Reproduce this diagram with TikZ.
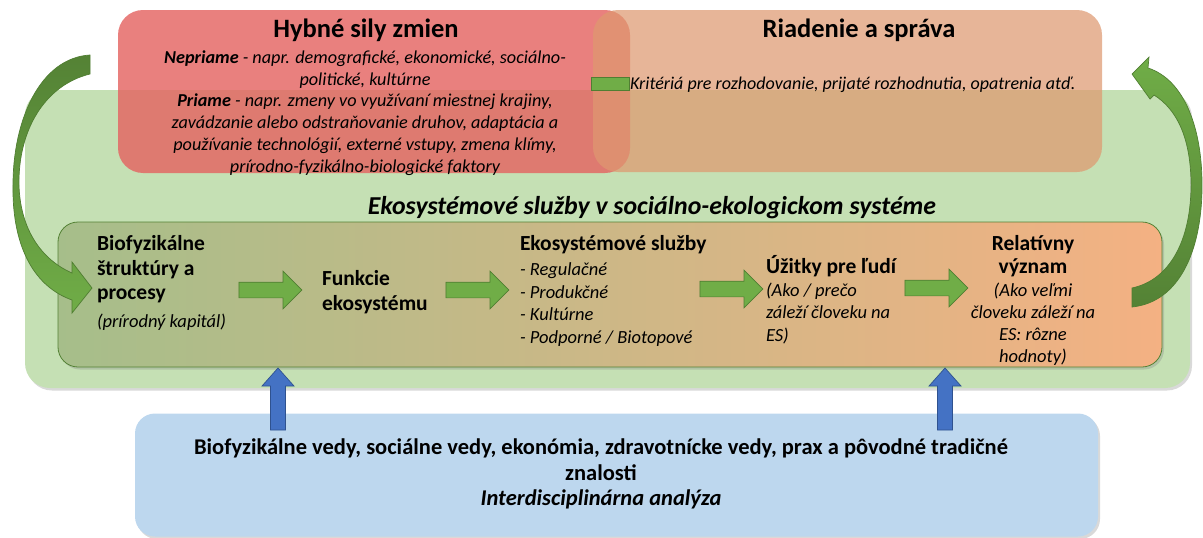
\documentclass[tikz,border=0pt]{standalone}
\usepackage{fontspec}
\setmainfont{Carlito}
\usetikzlibrary{shapes.arrows,shadows}
\definecolor{bggreen}{RGB}{197,224,180}
\definecolor{redbox}{RGB}{228,100,98}
\definecolor{orbox}{RGB}{222,152,112}
\definecolor{bluebox}{RGB}{189,215,238}
\definecolor{arrgreen}{RGB}{112,173,71}
\definecolor{arrgreenD}{RGB}{80,126,50}
\definecolor{darkgreen}{RGB}{84,130,53}
\definecolor{arrblue}{RGB}{68,114,196}
\definecolor{arrblueD}{RGB}{47,82,143}
\definecolor{gradL}{RGB}{166,190,138}
\definecolor{gradR}{RGB}{244,177,131}
\tikzset{
  panel/.style={draw=none, inner sep=0pt, outer sep=0pt},
  shad/.style={drop shadow={opacity=0.3, shadow xshift=2pt, shadow yshift=-2.5pt}},
  garrow/.style={single arrow, draw=arrgreenD, fill=arrgreen, line width=0.7pt,
    inner xsep=0pt, inner ysep=7.5pt, minimum height=63pt,
    single arrow head extend=11pt, single arrow tip angle=90, outer sep=0pt},
  barrow/.style={draw=arrblueD, fill=arrblue, line width=0.7pt},
  txt/.style={inner sep=0pt, outer sep=0pt, text=black},
  bt/.style={txt, font=\fontsize{21.5}{24.5}\selectfont\bfseries},
  it/.style={txt, font=\fontsize{18.5}{22.5}\selectfont\itshape},
}
\begin{document}
\begin{tikzpicture}[x=1pt,y=-1pt]
\useasboundingbox (0,0) rectangle (1203,538);
% big system box
\node[panel, fill=bggreen, rounded corners=25pt, minimum width=1165pt, minimum height=298pt, shad] (sys) at (607.5,239) {};
% drivers and governance
\node[panel, fill=redbox, fill opacity=0.82, rounded corners=25pt, minimum width=512pt, minimum height=163pt] (drv) at (374,91.5) {};
\node[panel, fill=orbox, fill opacity=0.72, rounded corners=25pt, minimum width=509pt, minimum height=162pt] (gov) at (847.5,91) {};
\node[draw=arrgreenD, fill=arrgreen, line width=0.6pt, inner sep=0pt, minimum width=38pt, minimum height=13pt] (link) at (610,83.5) {};
% inner gradient box
\node[panel, draw=darkgreen, line width=0.8pt, left color=gradL, right color=gradR, rounded corners=20pt, minimum width=1104pt, minimum height=145pt, shad] (es) at (610,294.5) {};
% blue box
\node[panel, fill=bluebox, rounded corners=20pt, minimum width=963pt, minimum height=123pt, shad] (sci) at (616.5,475) {};

% texts top
\node[txt, anchor=north, font=\fontsize{26.5}{30}\selectfont\bfseries] (drvt) at (366,19) {Hybné sily zmien};
\node[txt, anchor=north, align=center, font=\fontsize{18.2}{21.8}\selectfont\itshape] (drvb) at (365,50.5)
 {\textbf{Nepriame} - napr. demografické, ekonomické, sociálno-\\politické, kultúrne\\\textbf{Priame} - napr. zmeny vo využívaní miestnej krajiny,\\zavádzanie alebo odstraňovanie druhov, adaptácia a\\používanie technológií, externé vstupy, zmena klímy,\\prírodno-fyzikálno-biologické faktory};
\node[txt, anchor=north, font=\fontsize{26.5}{30}\selectfont\bfseries] (govt) at (859,19) {Riadenie a správa};
\node[txt, anchor=west, font=\fontsize{18}{21}\selectfont\itshape] (govb) at (630,85) {Kritériá pre rozhodovanie, prijaté rozhodnutia, opatrenia atď.};

\node[txt, anchor=north, font=\fontsize{25.8}{30}\selectfont\bfseries\itshape] (syst) at (652,196.5) {Ekosystémové služby v sociálno-ekologickom systéme};

% inner texts
\node[bt, anchor=north west, align=left] (bio) at (97,235.5) {Biofyzikálne\\štruktúry a\\procesy};
\node[it, anchor=north west] (bioc) at (97,313.5) {(prírodný kapitál)};
\node[bt, anchor=north west, align=left] (fun) at (322,270.5) {Funkcie\\ekosystému};
\node[bt, anchor=north west] (ess) at (520,235.5) {Ekosystémové služby};
\node[it, anchor=north west, align=left] (essl) at (520,263) {- Regulačné\\- Produkčné\\- Kultúrne\\- Podporné / Biotopové};
\node[bt, anchor=north west] (ben) at (766,255.5) {Úžitky pre ľudí};
\node[it, anchor=north west, align=left] (benl) at (766,282.5) {(Ako / prečo\\záleží človeku na\\ES)};
\node[bt, anchor=north, align=center, font=\fontsize{21.5}{23}\selectfont\bfseries] (rel) at (1033,235.5) {Relatívny\\význam};
\node[it, anchor=north, align=center, font=\fontsize{18.5}{22}\selectfont\itshape] (rell) at (1033,282.5) {(Ako veľmi\\človeku záleží na\\ES: rôzne\\hodnoty)};

% blue text
\node[txt, anchor=north, align=center, font=\fontsize{22.5}{25.5}\selectfont\bfseries] (scit) at (601,439)
 {Biofyzikálne vedy, sociálne vedy, ekonómia, zdravotnícke vedy, prax a pôvodné tradičné\\znalosti\\\textit{Interdisciplinárna analýza}};

% green block arrows
\node[garrow] (a1) at (266.5,290) {};
\node[garrow] (a2) at (473.5,290) {};
\node[garrow] (a3) at (727.5,289) {};
\node[garrow] (a4) at (932.5,288) {};

% blue arrows (from the analysis box up into the system)
\path[barrow] (270.5,430) -- (270.5,386) -- (262,386) -- (278,368) -- (294,386) -- (285.5,386) -- (285.5,430) -- cycle;
\path[barrow] (937.5,430) -- (937.5,386) -- (929,386) -- (945,368) -- (961,386) -- (952.5,386) -- (952.5,430) -- cycle;

% curved arrows
\path[draw=arrgreenD, line width=0.7pt, top color=darkgreen, bottom color=arrgreen]
 (90,55) -- (90,74) .. controls (45,85) and (18,130) .. (19,185)
 .. controls (20,225) and (38,258) .. (72,273) -- (72,262) -- (92,288) -- (72,313) -- (72,300)
 .. controls (30,285) and (12,240) .. (13,185) .. controls (13,120) and (40,58) .. (90,55) -- cycle;
\path[draw=arrgreenD, line width=0.7pt, top color=arrgreen, bottom color=darkgreen]
 (1132,307) -- (1132,288) .. controls (1170,280) and (1191,240) .. (1191,185)
 .. controls (1191,140) and (1178,110) .. (1154,95) -- (1150,99) -- (1132,74) -- (1149,57) -- (1148,68)
 .. controls (1185,80) and (1203,130) .. (1202,190) .. controls (1201,250) and (1180,302) .. (1132,307) -- cycle;
\end{tikzpicture}
\end{document}
